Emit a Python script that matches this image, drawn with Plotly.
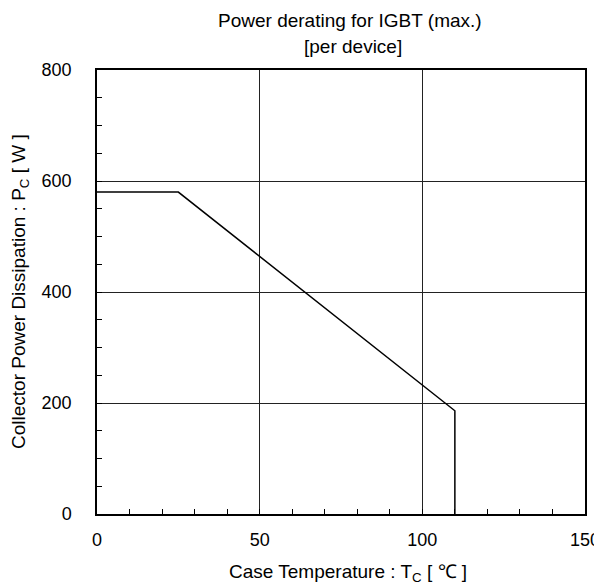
import plotly.graph_objects as go

# Data
case_temp = [0, 25, 110, 110]
power = [580, 580, 186, 0]

x_ticks = [0, 50, 100, 150]
y_ticks = [0, 200, 400, 600, 800]

title_lines = ["Power derating for IGBT (max.)", "[per device]"]
x_title = "Case Temperature : T<sub>C</sub> [ ℃ ]"
y_title = "Collector Power Dissipation : P<sub>C</sub> [ W ]"

FONT = "Liberation Sans, Arial, sans-serif"
FS = 19
TFS = 18

W, H = 602, 585
OFF = 8  # page body margin offset
# desired plot area in window pixels
PL, PR, PT, PB = 97, 585, 70, 514
ml, mt = PL - OFF, PT - OFF
mr = W - (PR - OFF)
mb = H - (PB - OFF)

fig = go.Figure()
fig.add_trace(go.Scatter(x=case_temp, y=power, mode="lines",
                         line=dict(color="black", width=1.5),
                         showlegend=False, hoverinfo="skip"))

fig.update_layout(
    width=W, height=H,
    margin=dict(l=ml, r=mr, t=mt, b=mb, autoexpand=False),
    paper_bgcolor="white", plot_bgcolor="white",
    font=dict(family=FONT, size=FS, color="black"),
)

def px(xw):
    return (xw - PL) / (PR - PL)
def py(yw):
    return (PB - yw) / (PB - PT)

fig.add_annotation(text=title_lines[0], x=px(350), y=py(21), xref="paper", yref="paper",
                   xanchor="center", yanchor="middle", showarrow=False,
                   font=dict(family=FONT, size=FS, color="black"))
fig.add_annotation(text=title_lines[1], x=px(353), y=py(47), xref="paper", yref="paper",
                   xanchor="center", yanchor="middle", showarrow=False,
                   font=dict(family=FONT, size=FS, color="black"))
fig.add_annotation(text=x_title, x=px(348), y=py(573), xref="paper", yref="paper",
                   xanchor="center", yanchor="middle", showarrow=False,
                   font=dict(family=FONT, size=FS, color="black"))
fig.add_annotation(text=y_title, x=px(20), y=py(292), xref="paper", yref="paper",
                   xanchor="center", yanchor="middle", showarrow=False, textangle=-90,
                   font=dict(family=FONT, size=FS, color="black"))

fig.update_xaxes(
    range=[0, 150], tickvals=x_ticks, ticktext=[str(v) for v in x_ticks],
    showgrid=True, gridcolor="#222", gridwidth=1,
    showline=True, linecolor="black", linewidth=1.5, mirror=True,
    ticks="inside", ticklen=5, tickcolor="black",
    minor=dict(dtick=10, ticks="inside", ticklen=5, tickcolor="black", showgrid=False),
    zeroline=False, ticklabelstandoff=9, automargin=False,
    tickfont=dict(family=FONT, size=TFS),
)
fig.update_yaxes(
    range=[0, 800], tickvals=y_ticks, ticktext=[str(v) for v in y_ticks],
    showgrid=True, gridcolor="#222", gridwidth=1,
    showline=True, linecolor="black", linewidth=1.5, mirror=True,
    ticks="inside", ticklen=5, tickcolor="black",
    minor=dict(dtick=50, ticks="inside", ticklen=5, tickcolor="black", showgrid=False),
    zeroline=False, ticklabelstandoff=20, automargin=False,
    tickfont=dict(family=FONT, size=TFS),
)

fig.write_html("out.html")
